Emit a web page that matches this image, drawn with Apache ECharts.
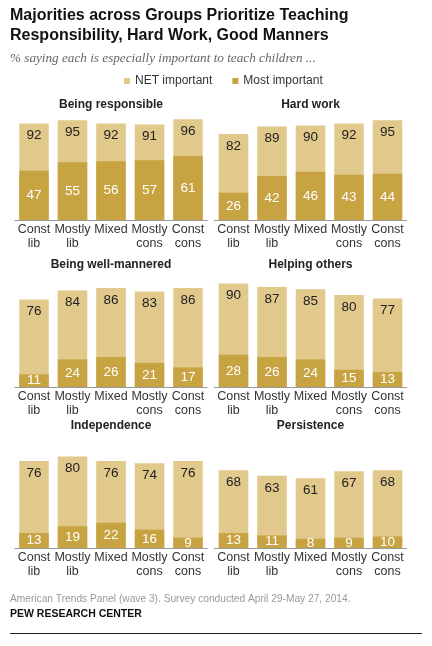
<!DOCTYPE html>
<html>
<head>
<meta charset="utf-8">
<script src="https://cdn.jsdelivr.net/npm/echarts@6/dist/echarts.min.js"></script>
<style>
html,body{margin:0;padding:0;background:#fff;}
#chart{width:432px;height:646px;}
</style>
</head>
<body>
<div id="chart"></div>
<script>
var categories = ['Const\nlib', 'Mostly\nlib', 'Mixed', 'Mostly\ncons', 'Const\ncons'];
var panelTitles = ['Being responsible', 'Hard work', 'Being well-mannered', 'Helping others', 'Independence', 'Persistence'];
var responsibleNet = [92, 95, 92, 91, 96];
var responsibleMost = [47, 55, 56, 57, 61];
var hardWorkNet = [82, 89, 90, 92, 95];
var hardWorkMost = [26, 42, 46, 43, 44];
var mannersNet = [76, 84, 86, 83, 86];
var mannersMost = [11, 24, 26, 21, 17];
var helpingNet = [90, 87, 85, 80, 77];
var helpingMost = [28, 26, 24, 15, 13];
var independenceNet = [76, 80, 76, 74, 76];
var independenceMost = [13, 19, 22, 16, 9];
var persistenceNet = [68, 63, 61, 67, 68];
var persistenceMost = [13, 11, 8, 9, 10];

var netSets = [responsibleNet, hardWorkNet, mannersNet, helpingNet, independenceNet, persistenceNet];
var mostSets = [responsibleMost, hardWorkMost, mannersMost, helpingMost, independenceMost, persistenceMost];

var LIGHT = '#E1C88B';
var DARK = '#C8A341';
var FONT = 'Liberation Sans Narrow, Liberation Sans, Arial, sans-serif';

// layout
var colLeft = [14.75, 214.25];
var colWidth = 192.5;
var rowBase = [220, 387, 548];
var rowScale = [1.05, 1.15, 1.145];
var rowTitleY = [105, 265, 426];

var grids = [], xAxes = [], yAxes = [], series = [], graphics = [];
for (var i = 0; i < 6; i++) {
  var r = Math.floor(i / 2), c = i % 2;
  var h = 100 * rowScale[r];
  grids.push({left: colLeft[c], width: colWidth, top: rowBase[r] - h, height: h, containLabel: false});
  xAxes.push({
    type: 'category', gridIndex: i, data: categories,
    axisLine: {show: true, lineStyle: {color: '#999', width: 1}},
    axisTick: {show: false},
    axisLabel: {color: '#333', fontSize: 12.5, lineHeight: 13.5, margin: 3, fontFamily: FONT, interval: 0}
  });
  yAxes.push({type: 'value', gridIndex: i, min: 0, max: 100, show: false, splitLine: {show: false}});
  series.push({
    name: 'NET important', type: 'bar', xAxisIndex: i, yAxisIndex: i,
    data: netSets[i], barWidth: 29.5, barGap: '-100%',
    itemStyle: {color: LIGHT},
    label: {show: true, position: 'insideTop', distance: 5, color: '#222', fontSize: 13.5, fontFamily: FONT},
    silent: true, animation: false
  });
  series.push({
    name: 'Most important', type: 'bar', xAxisIndex: i, yAxisIndex: i,
    data: mostSets[i], barWidth: 29.5, barGap: '-100%',
    itemStyle: {color: DARK},
    label: {show: true, position: 'inside', color: '#fff', fontSize: 13.5, fontFamily: FONT},
    silent: true, animation: false
  });
  graphics.push({
    type: 'text', x: colLeft[c] + colWidth / 2, y: rowTitleY[r],
    style: {text: panelTitles[i], fill: '#222', font: 'bold 12px ' + FONT, textAlign: 'center', textVerticalAlign: 'middle'}
  });
}

graphics.push({
  type: 'text', x: 10, y: 5,
  style: {text: 'Majorities across Groups Prioritize Teaching\nResponsibility, Hard Work, Good Manners', fill: '#111',
    font: 'bold 16px ' + FONT, lineHeight: 20.5, textAlign: 'left', textVerticalAlign: 'top'}
});
graphics.push({
  type: 'text', x: 10, y: 59,
  style: {text: '% saying each is especially important to teach children ...', fill: '#666',
    font: 'italic 13.2px Liberation Serif, DejaVu Serif, serif', textAlign: 'left', textVerticalAlign: 'middle'}
});
graphics.push({
  type: 'text', x: 10, y: 599,
  style: {text: 'American Trends Panel (wave 3). Survey conducted April 29-May 27, 2014.', fill: '#999',
    font: '10.2px ' + FONT, textAlign: 'left', textVerticalAlign: 'middle'}
});
graphics.push({
  type: 'text', x: 10, y: 614,
  style: {text: 'PEW RESEARCH CENTER', fill: '#111',
    font: 'bold 10.5px ' + FONT, textAlign: 'left', textVerticalAlign: 'middle'}
});
graphics.push({
  type: 'line', shape: {x1: 10, y1: 633.5, x2: 422, y2: 633.5},
  style: {stroke: '#222', lineWidth: 1}
});

var chart = echarts.init(document.getElementById('chart'), null, {renderer: 'canvas'});
chart.setOption({
  animation: false,
  legend: {
    data: ['NET important', 'Most important'], left: 119, top: 70,
    icon: 'rect', itemWidth: 6, itemHeight: 6, itemGap: 20,
    textStyle: {color: '#333', fontSize: 12, fontFamily: FONT}, selectedMode: false
  },
  grid: grids, xAxis: xAxes, yAxis: yAxes, series: series, graphic: graphics
});
</script>
</body>
</html>
